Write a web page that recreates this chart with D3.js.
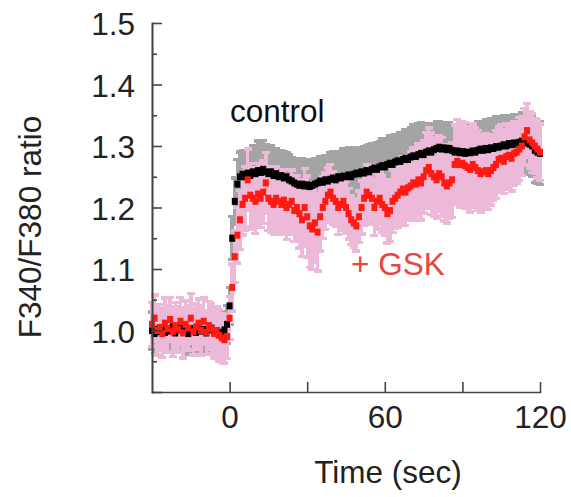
<!DOCTYPE html>
<html>
<head>
<meta charset="utf-8">
<script src="https://cdn.jsdelivr.net/npm/d3@7"></script>
<style>
	body { margin: 0; background: #fff; }
	svg { display: block; font-family: Arial, "Liberation Sans", sans-serif; }
	.axis path, .axis line { stroke: #444; stroke-width: 1.6; }
	.axis text { font-size: 31.5px; fill: #222; }
</style>
</head>
<body>
<svg id="chart" width="571" height="497"></svg>
<script>
// sample times (sec)
const time = [
	-30, -29, -28, -27, -26, -25, -24, -23, -22, -21, -20, -19, -18, -17, -16,
	-15, -14, -13, -12, -11, -10, -9, -8, -7, -6, -5, -4, -3, -2, -1,
	0, 1, 2, 3, 4, 5, 6, 7, 8, 9, 10, 11, 12, 13, 14, 15, 16, 17, 18, 19,
	20, 21, 22, 23, 24, 25, 26, 27, 28, 29, 30, 31, 32, 33, 34, 35, 36, 37, 38, 39,
	40, 41, 42, 43, 44, 45, 46, 47, 48, 49, 50, 51, 52, 53, 54, 55, 56, 57, 58, 59,
	60, 61, 62, 63, 64, 65, 66, 67, 68, 69, 70, 71, 72, 73, 74, 75, 76, 77, 78, 79,
	80, 81, 82, 83, 84, 85, 86, 87, 88, 89, 90, 91, 92, 93, 94, 95, 96, 97, 98, 99,
	100, 101, 102, 103, 104, 105, 106, 107, 108, 109, 110, 111, 112, 113, 114,
	115, 116, 117, 118, 119, 120
];

// control: mean ratio and error
const controlMean = [
	1.000, 0.995, 1.002, 0.998, 1.005, 0.997, 1.003, 0.999, 1.006, 0.996,
	1.001, 1.004, 0.998, 1.002, 0.995, 1.003, 1.000, 0.997, 1.005, 0.999,
	1.002, 0.996, 1.001, 1.004, 0.998, 1.000, 0.994, 0.997, 1.001, 1.010,
	1.040, 1.150, 1.210, 1.238, 1.250, 1.254, 1.250, 1.256, 1.252, 1.258,
	1.255, 1.260, 1.257, 1.262, 1.258, 1.255, 1.258, 1.252, 1.255, 1.250,
	1.252, 1.248, 1.250, 1.245, 1.243, 1.240, 1.238, 1.236, 1.238, 1.235,
	1.237, 1.234, 1.236, 1.238, 1.240, 1.243, 1.241, 1.245, 1.243, 1.246,
	1.248, 1.245, 1.250, 1.248, 1.251, 1.250, 1.253, 1.250, 1.254, 1.256,
	1.255, 1.258, 1.256, 1.260, 1.258, 1.262, 1.264, 1.262, 1.266, 1.268,
	1.266, 1.270, 1.272, 1.270, 1.274, 1.276, 1.275, 1.278, 1.280, 1.278,
	1.282, 1.284, 1.283, 1.286, 1.288, 1.286, 1.290, 1.292, 1.290, 1.294,
	1.296, 1.298, 1.295, 1.297, 1.294, 1.296, 1.293, 1.290, 1.292, 1.289,
	1.291, 1.288, 1.290, 1.289, 1.292, 1.290, 1.293, 1.295, 1.293, 1.296,
	1.294, 1.297, 1.296, 1.299, 1.298, 1.300, 1.302, 1.300, 1.304, 1.302,
	1.305, 1.303, 1.306, 1.308, 1.305, 1.307, 1.303, 1.300, 1.293, 1.290, 1.288
];
const controlErr = [
	0.030, 0.032, 0.029, 0.031, 0.030, 0.033, 0.030, 0.028, 0.031, 0.030,
	0.032, 0.029, 0.030, 0.031, 0.033, 0.030, 0.029, 0.031, 0.030, 0.032,
	0.030, 0.031, 0.029, 0.030, 0.032, 0.030, 0.031, 0.029, 0.030, 0.031,
	0.030, 0.035, 0.038, 0.040, 0.040, 0.038, 0.042, 0.040, 0.044, 0.042,
	0.046, 0.048, 0.045, 0.047, 0.044, 0.046, 0.042, 0.044, 0.041, 0.043,
	0.040, 0.042, 0.039, 0.041, 0.038, 0.040, 0.042, 0.039, 0.041, 0.043,
	0.040, 0.042, 0.039, 0.041, 0.038, 0.040, 0.042, 0.039, 0.041, 0.043,
	0.042, 0.044, 0.041, 0.043, 0.045, 0.042, 0.044, 0.041, 0.043, 0.040,
	0.042, 0.040, 0.043, 0.041, 0.044, 0.042, 0.040, 0.043, 0.041, 0.044,
	0.043, 0.041, 0.044, 0.042, 0.045, 0.043, 0.046, 0.044, 0.047, 0.049,
	0.048, 0.050, 0.049, 0.051, 0.050, 0.048, 0.047, 0.045, 0.044, 0.043,
	0.044, 0.042, 0.043, 0.041, 0.040, 0.042, 0.040, 0.039, 0.041, 0.040,
	0.041, 0.043, 0.042, 0.044, 0.045, 0.043, 0.046, 0.044, 0.046, 0.047,
	0.045, 0.047, 0.046, 0.048, 0.047, 0.046, 0.048, 0.047, 0.046, 0.048,
	0.046, 0.047, 0.045, 0.046, 0.048, 0.047, 0.049, 0.050, 0.052, 0.050, 0.051
];

// + GSK: mean ratio and error
const gskMean = [
	1.010, 1.020, 1.000, 1.005, 0.995, 1.012, 1.003, 1.018, 0.998, 1.008,
	1.002, 1.015, 0.996, 1.010, 1.004, 1.020, 0.998, 1.006, 1.012, 1.000,
	1.015, 0.997, 1.008, 1.003, 0.995, 1.000, 0.992, 0.988, 0.985, 0.990,
	1.020, 1.070, 1.120, 1.155, 1.180, 1.205, 1.215, 1.245, 1.220, 1.215,
	1.210, 1.222, 1.215, 1.225, 1.240, 1.215, 1.210, 1.205, 1.215, 1.210,
	1.205, 1.212, 1.200, 1.205, 1.210, 1.195, 1.200, 1.190, 1.180, 1.200,
	1.185, 1.170, 1.165, 1.175, 1.160, 1.185, 1.200, 1.210, 1.220, 1.225,
	1.215, 1.210, 1.200, 1.205, 1.210, 1.200, 1.190, 1.180, 1.175, 1.170,
	1.185, 1.200, 1.215, 1.225, 1.220, 1.215, 1.200, 1.210, 1.215, 1.205,
	1.200, 1.190, 1.195, 1.210, 1.215, 1.220, 1.225, 1.230, 1.225, 1.232,
	1.235, 1.240, 1.238, 1.245, 1.240, 1.250, 1.260, 1.265, 1.255, 1.250,
	1.245, 1.255, 1.250, 1.240, 1.235, 1.240, 1.245, 1.270, 1.275, 1.270,
	1.272, 1.268, 1.265, 1.262, 1.270, 1.265, 1.260, 1.255, 1.258, 1.260,
	1.255, 1.260, 1.265, 1.270, 1.278, 1.280, 1.275, 1.283, 1.285, 1.280,
	1.288, 1.290, 1.295, 1.300, 1.315, 1.325, 1.310, 1.305, 1.300, 1.295, 1.290
];
const gskErr = [
	0.036, 0.038, 0.040, 0.037, 0.039, 0.041, 0.038, 0.036, 0.040, 0.038,
	0.037, 0.039, 0.041, 0.038, 0.036, 0.040, 0.038, 0.037, 0.039, 0.040,
	0.038, 0.036, 0.039, 0.041, 0.040, 0.038, 0.042, 0.040, 0.038, 0.036,
	0.035, 0.038, 0.042, 0.045, 0.048, 0.050, 0.052, 0.050, 0.052, 0.050,
	0.052, 0.050, 0.048, 0.051, 0.049, 0.052, 0.050, 0.048, 0.051, 0.049,
	0.048, 0.050, 0.052, 0.049, 0.051, 0.050, 0.052, 0.056, 0.060, 0.063,
	0.066, 0.068, 0.066, 0.064, 0.063, 0.056, 0.050, 0.046, 0.044, 0.045,
	0.043, 0.041, 0.044, 0.042, 0.044, 0.042, 0.041, 0.040, 0.040, 0.041,
	0.042, 0.043, 0.044, 0.045, 0.044, 0.043, 0.046, 0.045, 0.043, 0.046,
	0.046, 0.048, 0.050, 0.051, 0.049, 0.052, 0.051, 0.053, 0.054, 0.053,
	0.055, 0.057, 0.059, 0.058, 0.060, 0.059, 0.062, 0.064, 0.066, 0.064,
	0.063, 0.061, 0.064, 0.062, 0.060, 0.058, 0.061, 0.064, 0.068, 0.070,
	0.068, 0.070, 0.067, 0.069, 0.066, 0.064, 0.065, 0.063, 0.061, 0.060,
	0.058, 0.056, 0.054, 0.055, 0.053, 0.054, 0.052, 0.053, 0.051, 0.053,
	0.052, 0.050, 0.051, 0.048, 0.046, 0.044, 0.046, 0.048, 0.045, 0.047, 0.046
];

// axis ticks
const yMajor = [0.9, 1.0, 1.1, 1.2, 1.3, 1.4, 1.5];
const yMinor = [0.95, 1.05, 1.15, 1.25, 1.35, 1.45];
const xTicks = [0, 30, 60, 90, 120];
const xLabels = [0, 60, 120];

var svg = d3.select("#chart");

var x = d3.scaleLinear().domain([-30, 120]).range([152, 540]);
var y = d3.scaleLinear().domain([0.9, 1.5]).range([392, 23]);

var series = [
	{ mean: controlMean, err: controlErr, bar: "#a4a4a4", dot: "#000000" },
	{ mean: gskMean, err: gskErr, bar: "#edb9d8", dot: "#ff1a12" }
];

function rows(s) {
	return time.map((t, i) => ({ t: t, m: s.mean[i], e: s.err[i] }));
}

// error bars first (grey, then pink), markers on top
series.forEach(function(s) {
	var g = svg.append("g")
		.attr("stroke", s.bar)
		.attr("stroke-width", 3.4)
		.attr("shape-rendering", "crispEdges");
	var d = rows(s);
	g.selectAll(".bar")
		.data(d)
		.enter()
		.append("line")
		.attr("x1", d => x(d.t))
		.attr("x2", d => x(d.t))
		.attr("y1", d => y(d.m - d.e))
		.attr("y2", d => y(d.m + d.e));
	["capTop", "capBot"].forEach(function(c, k) {
		g.selectAll("." + c)
			.data(d)
			.enter()
			.append("line")
			.attr("x1", d => x(d.t) - 4)
			.attr("x2", d => x(d.t) + 4)
			.attr("y1", d => y(k ? d.m - d.e : d.m + d.e))
			.attr("y2", d => y(k ? d.m - d.e : d.m + d.e));
	});
});

series.forEach(function(s) {
	svg.append("g")
		.attr("fill", s.dot)
		.selectAll("rect")
		.data(rows(s))
		.enter()
		.append("rect")
		.attr("x", d => x(d.t) - 3)
		.attr("y", d => y(d.m) - 3.5)
		.attr("width", 6)
		.attr("height", 7);
});

// axes, ticks pointing inwards
svg.append("g")
	.attr("class", "axis")
	.attr("transform", "translate(152,0)")
	.call(
		d3.axisLeft(y)
			.tickValues(yMajor)
			.tickSize(-10)
			.tickSizeOuter(0)
			.tickPadding(17)
			.tickFormat(d => (d < 0.95 ? "" : d3.format(".1f")(d)))
	)
	.selectAll("text")
	.attr("dy", "0.37em");

svg.append("g")
	.attr("class", "axis")
	.attr("transform", "translate(152,0)")
	.call(d3.axisLeft(y).tickValues(yMinor).tickSize(-5).tickSizeOuter(0).tickFormat(""));

svg.append("g")
	.attr("class", "axis")
	.attr("transform", "translate(0,392)")
	.call(
		d3.axisBottom(x)
			.tickValues(xTicks)
			.tickSize(-10)
			.tickSizeOuter(0)
			.tickPadding(14)
			.tickFormat(d => (xLabels.includes(d) ? d : ""))
	);

svg.selectAll(".axis .domain").attr("stroke-linecap", "square");

// titles and labels
svg.append("text")
	.attr("x", 388)
	.attr("y", 483)
	.attr("text-anchor", "middle")
	.attr("font-size", 31.5)
	.attr("fill", "#222")
	.text("Time (sec)");

svg.append("text")
	.attr("transform", "translate(41,227) rotate(-90)")
	.attr("text-anchor", "middle")
	.attr("font-size", 31.5)
	.attr("fill", "#222")
	.text("F340/F380 ratio");

svg.append("text")
	.attr("x", 230)
	.attr("y", 122)
	.attr("font-size", 31.5)
	.attr("fill", "#111")
	.text("control");

svg.append("text")
	.attr("x", 351)
	.attr("y", 275)
	.attr("font-size", 31.5)
	.attr("fill", "#e8463e")
	.text("+ GSK");
</script>
</body>
</html>
